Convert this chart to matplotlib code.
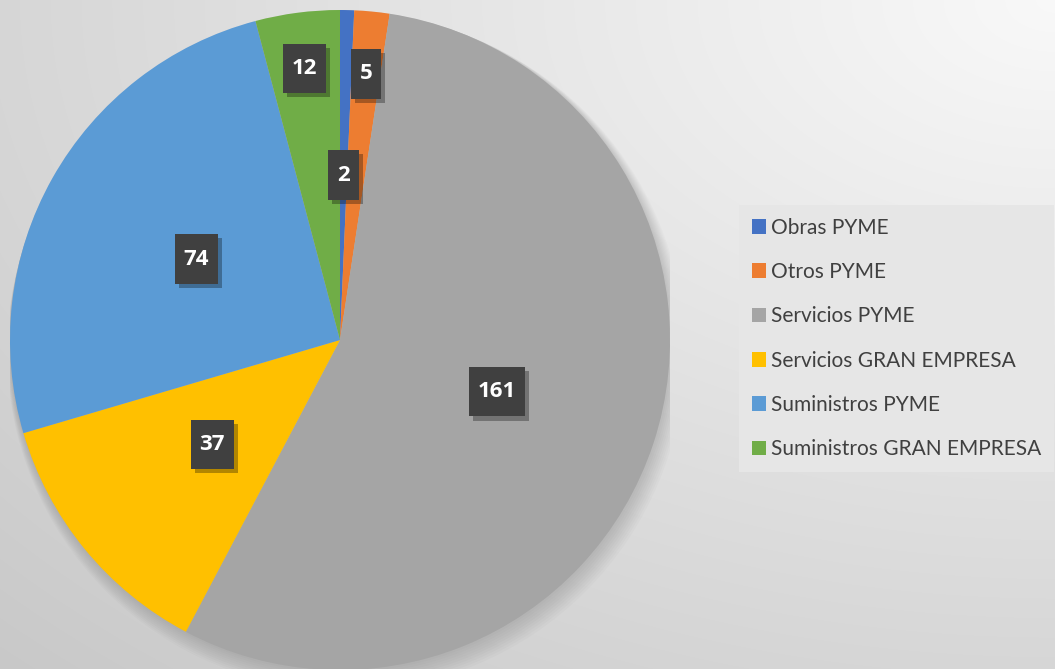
import numpy as np
import matplotlib.pyplot as plt
import matplotlib.patheffects as pe
from matplotlib.patches import Patch, Circle

# data
categories = ['Obras PYME', 'Otros PYME', 'Servicios PYME', 'Servicios GRAN EMPRESA',
              'Suministros PYME', 'Suministros GRAN EMPRESA']
values = [2, 5, 161, 37, 74, 12]
colors = ['#4472C4', '#ED7D31', '#A5A5A5', '#FFC000', '#5B9BD5', '#70AD47']
# radial position of each value label (fraction of radius)
label_r = [0.5, 0.81, 0.5, 0.5, 0.5, 0.83]

W, H = 1055, 669
fig = plt.figure(figsize=(W / 100, H / 100), dpi=100)

# background gradient (light top-right, darker bottom-left)
bg = fig.add_axes([0, 0, 1, 1], zorder=0)
yy, xx = np.mgrid[0:H, 0:W]
d = np.sqrt(((xx - W) / W) ** 2 + (yy / H) ** 2) / np.sqrt(2)
g = 0.975 - 0.19 * np.clip(d, 0, 1)
bg.imshow(np.dstack([g, g, g]), extent=[0, W, H, 0], aspect='auto')
bg.axis('off')

# pie axes: centre (340, 340) px from top, radius 330 px
cx, cy, r = 340, 340, 330
ax = fig.add_axes([(cx - r) / W, (H - cy - r) / H, 2 * r / W, 2 * r / H], zorder=1)

# soft shadow under the pie
for k in range(10):
    ax.add_patch(Circle((0.002 * k, -0.004 * k), 1.0 + 0.003 * k, color='black',
                        alpha=0.015, lw=0, zorder=0))

wedges, _ = ax.pie(values, colors=colors, startangle=90, counterclock=False,
                   radius=1.0, wedgeprops=dict(linewidth=0))
ax.set_xlim(-1, 1)
ax.set_ylim(-1, 1)
ax.axis('off')

for w, v, lr in zip(wedges, values, label_r):
    ang = np.deg2rad((w.theta1 + w.theta2) / 2)
    t = ax.text(lr * np.cos(ang), lr * np.sin(ang), str(v), ha='center', va='center',
                color='white', fontsize=16, fontweight='bold', family='Open Sans',
                bbox=dict(boxstyle='square,pad=0.4', fc='#404040', ec='none'),
                zorder=5)
    bp = t.get_bbox_patch()
    bp.set_mutation_aspect(1.6)
    bp.set_path_effects([
        pe.SimplePatchShadow(offset=(3, -3), shadow_rgbFace='black', alpha=0.3),
        pe.Normal()])

handles = [Patch(facecolor=c, edgecolor='none') for c in colors]
leg = fig.legend(handles, categories, loc='upper left',
                 bbox_to_anchor=(739 / W, 1 - 205 / H),
                 frameon=True, fancybox=False,
                 prop={'family': 'Lato', 'size': 15},
                 labelspacing=1.17, handlelength=0.7, handleheight=0.7,
                 handletextpad=0.25, borderpad=0.6, borderaxespad=0)
leg.get_frame().set_facecolor('#e6e6e6')
leg.get_frame().set_edgecolor('none')
leg.get_frame().set_alpha(1)
for txt in leg.get_texts():
    txt.set_color('#404040')

fig.savefig('out.png', dpi=100)
